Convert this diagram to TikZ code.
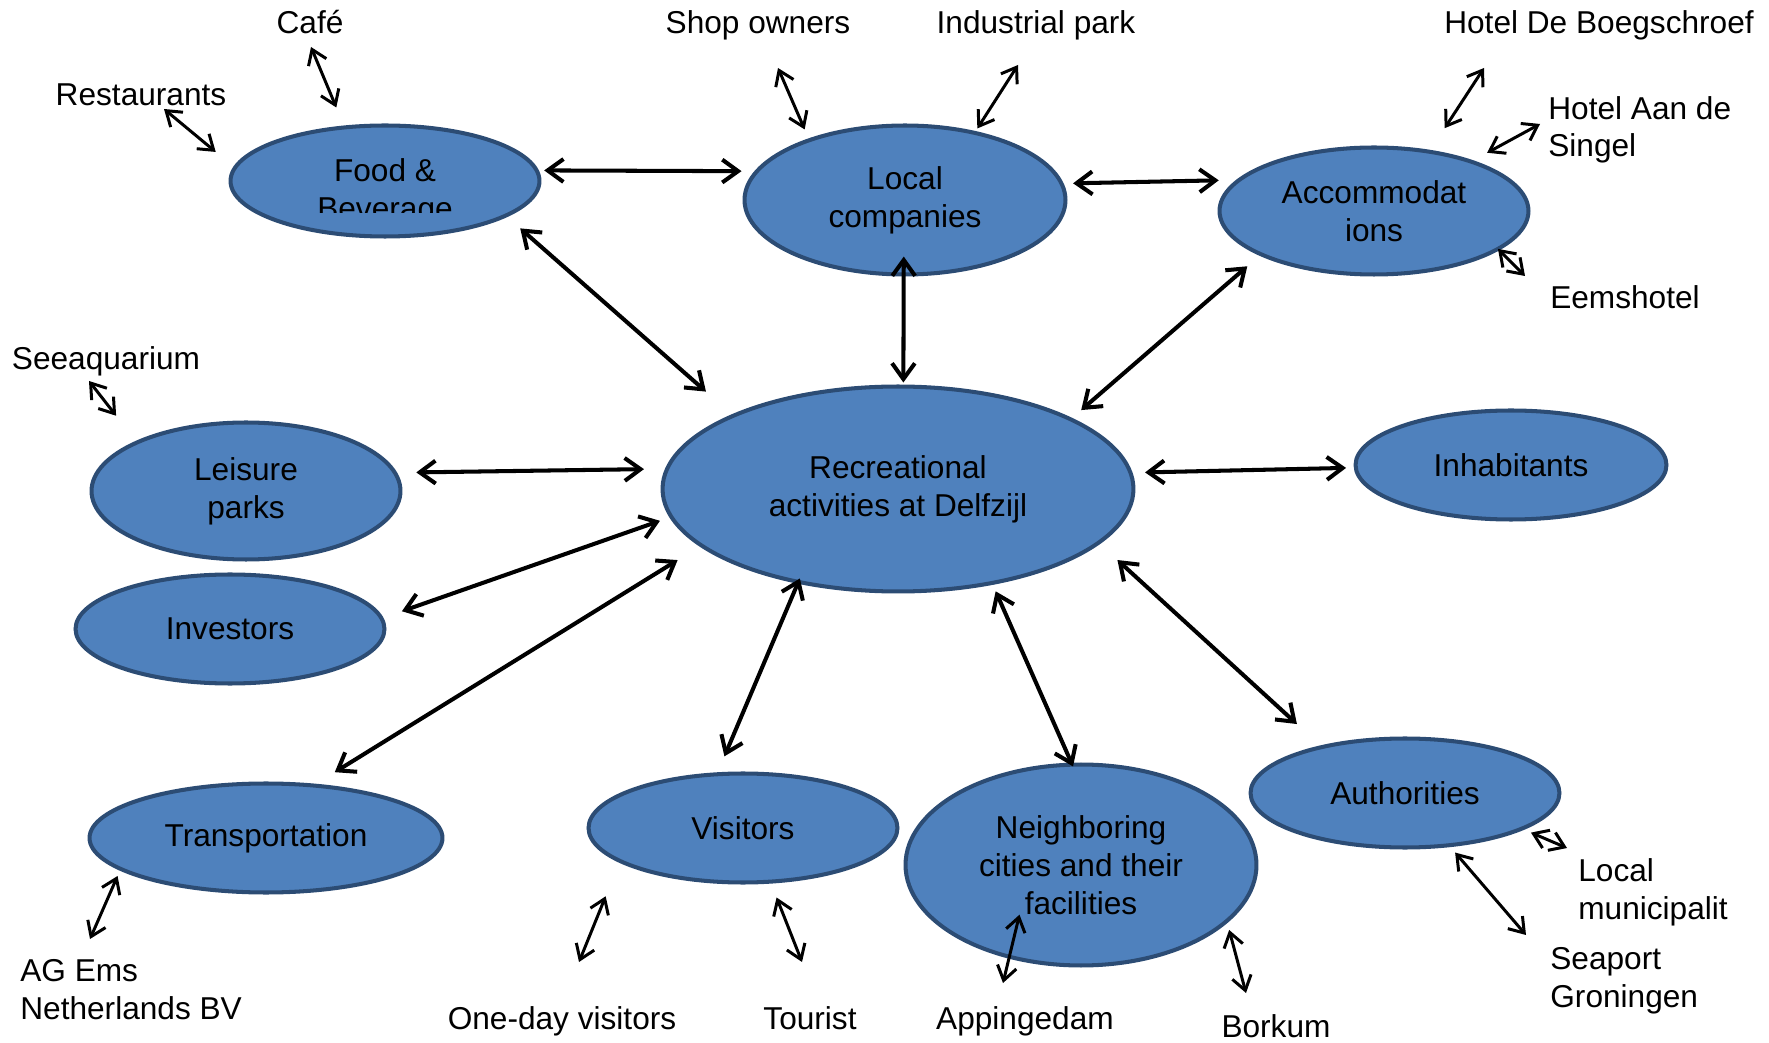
\documentclass[tikz,border=0pt]{standalone}
\usepackage{fontspec}
\setmainfont{Liberation Sans}
\usetikzlibrary{shapes.geometric,arrows.meta}

\definecolor{stakefill}{HTML}{4F81BD}
\definecolor{stakeline}{HTML}{2C4C74}

\begin{document}
\begin{tikzpicture}[x=0.02cm, y=-0.02cm,
  stake/.style = {ellipse, draw=stakeline, fill=stakefill, line width=2.3pt,
                  inner sep=0pt, outer sep=0pt, align=center,
                  font=\fontsize{18}{21.6}\selectfont},
  tag/.style = {inner sep=0pt, font=\fontsize{18}{21.6}\selectfont},
  link/.style = {<->, line width=2.3pt, >={Straight Barb[length=9pt,width=13pt]}},
  twig/.style = {<->, line width=1.7pt, >={Straight Barb[length=8pt,width=11pt]}}]

\useasboundingbox (0,0) rectangle (1769,1043);

% stakeholders
\node[stake, minimum width=6.18cm, minimum height=2.22cm] (food)      at (385,181)  {};
\node[stake, minimum width=6.42cm, minimum height=2.98cm] (local)     at (905,200)  {Local\\companies};
\node[stake, minimum width=6.18cm, minimum height=2.54cm] (accom)     at (1374,211) {Accommodat\\ions};
\node[stake, minimum width=9.42cm, minimum height=4.10cm] (rec)       at (898,489)  {Recreational\\activities at Delfzijl};
\node[stake, minimum width=6.22cm, minimum height=2.18cm] (inhab)     at (1511,465) {Inhabitants};
\node[stake, minimum width=6.18cm, minimum height=2.74cm] (leisure)   at (246,491)  {Leisure\\parks};
\node[stake, minimum width=6.18cm, minimum height=2.18cm] (invest)    at (230,629)  {Investors};
\node[stake, minimum width=7.06cm, minimum height=2.18cm] (transport) at (266,838)  {Transportation};
\node[stake, minimum width=6.18cm, minimum height=2.18cm] (visitors)  at (743,828)  {Visitors};
\node[stake, minimum width=7.02cm, minimum height=4.02cm] (neighbor)  at (1081,865) {Neighboring\\cities and their\\facilities};
\node[stake, minimum width=6.18cm, minimum height=2.18cm] (authority) at (1405,793) {Authorities};

\begin{scope}
\clip (200,100) rectangle (570,213);
\node[tag, align=center] (foodtext) at (385,192) {Food \&\\Beverage};
\end{scope}

% outer parties
\node[tag, anchor=base]      (cafe)    at (310,34)   {Café};
\node[tag, anchor=base]      (rest)    at (141,106)  {Restaurants};
\node[tag, anchor=base]      (shop)    at (758,34)   {Shop owners};
\node[tag, anchor=base]      (indus)   at (1036,34)  {Industrial park};
\node[tag, anchor=base]      (boeg)    at (1599,34)  {Hotel De Boegschroef};
\node[tag, anchor=base west, align=left] (singel) at (1548,157) {Hotel Aan de\\Singel};
\node[tag, anchor=base]      (eems)    at (1625,309) {Eemshotel};
\node[tag, anchor=base]      (seeaq)   at (106,370)  {Seeaquarium};
\node[tag, anchor=base west, align=left] (agems) at (20,1019) {AG Ems\\Netherlands BV};
\node[tag, anchor=base]      (oneday)  at (562,1029) {One-day visitors};
\node[tag, anchor=base]      (tourist) at (810,1029) {Tourist};
\node[tag, anchor=base]      (apping)  at (1025,1029) {Appingedam};
\node[tag, anchor=base]      (borkum)  at (1276,1037) {Borkum};
\node[tag, anchor=base west, align=left] (munic) at (1578,919) {Local\\municipalit};
\node[tag, anchor=base west, align=left] (seaport) at (1550,1007) {Seaport\\Groningen};

\coordinate (cafe-e)    at (311,47);
\coordinate (rest-e)    at (164,109);
\coordinate (shop-e)    at (778,68);
\coordinate (indus-e)   at (1018,65);
\coordinate (boeg-e)    at (1484,68);
\coordinate (singel-e)  at (1540,124);
\coordinate (eems-e)    at (1525,276);
\coordinate (seeaq-e)   at (89,381);
\coordinate (agems-e)   at (90,939);
\coordinate (oneday-e)  at (579,962);
\coordinate (tourist-e) at (802,962);
\coordinate (apping-e)  at (1003,983);
\coordinate (borkum-e)  at (1246,993);
\coordinate (munic-e)   at (1567,848);
\coordinate (seaport-e) at (1526,935);

% links around the centre
\draw[link, shorten <=4.3pt, shorten >=8.8pt]   (food.4.5) -- (local.169.5);
\draw[link, shorten <=6.6pt, shorten >=11.7pt]  (local.6.5) -- (accom.167.8);
\draw[link, shorten <=11pt, shorten >=20.8pt]   (food.-16.1) -- (rec.156.1);
\draw[link, shorten <=-10.2pt, shorten >=2.3pt] (local.-91.1) -- (rec.87.2);
\draw[link, shorten <=10.4pt, shorten >=8pt]    (accom.201.2) -- (rec.22.8);
\draw[link, shorten <=12.2pt, shorten >=13.2pt] (leisure.7.6) -- (rec.175.8);
\draw[link, shorten <=8.3pt, shorten >=5.5pt]   (rec.4.4) -- (inhab.181.8);
\draw[link, shorten <=12.3pt, shorten >=6.9pt]  (invest.4.5) -- (rec.187.3);
\draw[link, shorten <=14.4pt, shorten >=15.9pt] (transport.48) -- (rec.196.6);
\draw[link, shorten <=11.1pt, shorten >=-2.1pt] (visitors.116.8) -- (rec.223.5);
\draw[link, shorten <=-1.1pt, shorten >=5.2pt]  (neighbor.95.5) -- (rec.-45.7);
\draw[link, shorten <=19.4pt, shorten >=14.6pt] (authority.151) -- (rec.-15.6);

% small links to the outer parties
\draw[twig, shorten >=12.3pt] (cafe-e) -- (food.127.3);
\draw[twig, shorten >=14.2pt] (rest-e) -- (food.175.2);
\draw[twig, shorten >=6.7pt]  (shop-e) -- (local.148.9);
\draw[twig, shorten >=3pt]    (indus-e) -- (local.44.4);
\draw[twig, shorten >=16pt]   (boeg-e) -- (accom.47.1);
\draw[twig, shorten >=10.5pt] (singel-e) -- (accom.27.5);
\draw[twig]                   (eems-e) -- (accom.-17.5);
\draw[twig, shorten >=19.3pt] (seeaq-e) -- (leisure.156.3);
\draw[twig, shorten >=4.4pt]  (agems-e) -- (transport.192.4);
\draw[twig, shorten >=21.7pt] (oneday-e) -- (visitors.195.8);
\draw[twig, shorten >=9.7pt]  (tourist-e) -- (visitors.-63.2);
\draw[twig, shorten >=-24.6pt] (apping-e) -- (neighbor.232.4);
\draw[twig, shorten >=5.3pt]  (borkum-e) -- (neighbor.-21.7);
\draw[twig, shorten >=5.7pt]  (munic-e) -- (authority.-17.6);
\draw[twig, shorten >=5.5pt]  (seaport-e) -- (authority.-50.2);
\end{tikzpicture}
\end{document}
